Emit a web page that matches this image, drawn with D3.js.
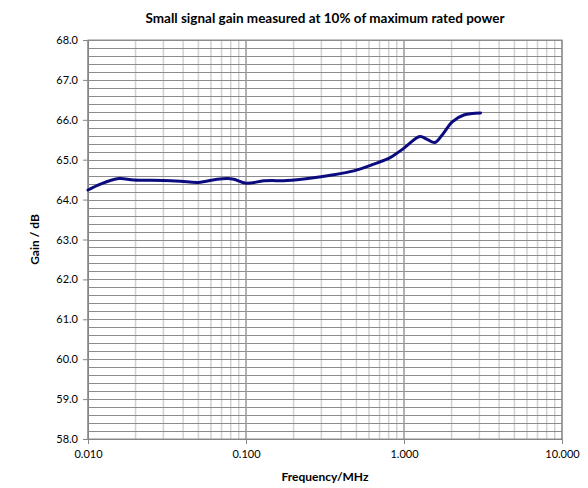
<!DOCTYPE html>
<html>
<head>
<meta charset="UTF-8">
<script src="https://cdn.jsdelivr.net/npm/d3@7/dist/d3.min.js"></script>
<style>
body{
    margin:0;
    background-color:#fff;
    font-family: "Lato", "Open Sans", sans-serif;
}
.axis path, .axis line{
    stroke:#868686;
}
.axis text{
    font-family: "Lato", "Open Sans", sans-serif;
    font-size:11px;
    fill:#000;
}
</style>
</head>
<body>
<script>

// frequency (MHz) and gain (dB)
var freq = [0.010, 0.012, 0.0157, 0.0195, 0.030, 0.0385, 0.050, 0.0657, 0.076, 0.0837, 0.100, 0.130, 0.182, 0.268, 0.343, 0.481, 0.644, 0.822, 1.00, 1.26, 1.40, 1.567, 1.745, 2.02, 2.39, 3.05];
var gain = [64.24, 64.39, 64.53, 64.49, 64.48, 64.46, 64.43, 64.51, 64.53, 64.51, 64.41, 64.47, 64.48, 64.55, 64.61, 64.72, 64.89, 65.06, 65.29, 65.58, 65.51, 65.43, 65.62, 65.95, 66.12, 66.17];

var xTicks = [0.01, 0.1, 1, 10];
var yTicks = [58, 59, 60, 61, 62, 63, 64, 65, 66, 67, 68];

var data = freq.map(function(f, i){ return {f: f, g: gain[i]}; });

var width = 588, height = 488;
var margin = {top: 40, right: 26, bottom: 49, left: 88};
var w = width - margin.left - margin.right,
    h = height - margin.top - margin.bottom;

var x = d3.scaleLog().domain([0.01, 10]).range([0, w]);
var y = d3.scaleLinear().domain([58, 68]).range([h, 0]);

var svg = d3.select("body").append("svg")
    .attr("width", width)
    .attr("height", height);

var g = svg.append("g")
    .attr("transform", "translate(" + margin.left + "," + margin.top + ")");

// minor vertical grid (2..9 in each decade)
var minorX = [];
[0.01, 0.1, 1].forEach(function(d){
    for (var k = 2; k <= 9; k++) minorX.push(d * k);
});
g.selectAll(".vminor")
    .data(minorX)
    .enter().append("line")
    .attr("x1", function(d){ return x(d); })
    .attr("x2", function(d){ return x(d); })
    .attr("y1", 0).attr("y2", h)
    .attr("stroke", "#d0d0d0")
    .attr("stroke-width", 1.5);

// horizontal grid every 0.2 dB
var hLines = d3.range(58, 68.001, 0.2);
g.selectAll(".hgrid")
    .data(hLines)
    .enter().append("line")
    .attr("x1", 0).attr("x2", w)
    .attr("y1", function(d){ return Math.round(y(d)) + 0.5; })
    .attr("y2", function(d){ return Math.round(y(d)) + 0.5; })
    .attr("stroke", "#8c8c8c")
    .attr("stroke-width", 1);

// decade lines
g.selectAll(".vmajor")
    .data(xTicks)
    .enter().append("line")
    .attr("x1", function(d){ return x(d); })
    .attr("x2", function(d){ return x(d); })
    .attr("y1", 0).attr("y2", h)
    .attr("stroke", "#9a9a9a")
    .attr("stroke-width", 1.5);

g.append("rect")
    .attr("width", w).attr("height", h)
    .attr("fill", "none")
    .attr("stroke", "#8c8c8c");

var gX = g.append("g")
    .attr("class", "axis")
    .attr("transform", "translate(0," + h + ")")
    .call(d3.axisBottom(x).tickValues(xTicks).tickFormat(d3.format(".3f")).tickSize(5).tickPadding(6));

var gY = g.append("g")
    .attr("class", "axis")
    .call(d3.axisLeft(y).tickValues(yTicks).tickFormat(d3.format(".1f")).tickSize(5).tickPadding(5));

var line = d3.line()
    .x(function(d){ return x(d.f); })
    .y(function(d){ return y(d.g); })
    .curve(d3.curveCatmullRom.alpha(0.5));

g.append("path")
    .datum(data)
    .attr("fill", "none")
    .attr("stroke", "#0b0b80")
    .attr("stroke-width", 3)
    .attr("stroke-linejoin", "round")
    .attr("stroke-linecap", "round")
    .attr("d", line);

svg.append("text")
    .attr("x", 325)
    .attr("y", 23)
    .attr("text-anchor", "middle")
    .attr("font-size", 13.5)
    .attr("font-weight", "bold")
    .text("Small signal gain measured at 10% of maximum rated power");

svg.append("text")
    .attr("x", 325)
    .attr("y", 481)
    .attr("text-anchor", "middle")
    .attr("font-size", 12)
    .attr("font-weight", "bold")
    .text("Frequency/MHz");

svg.append("text")
    .attr("transform", "translate(39," + (margin.top + h / 2) + ") rotate(-90)")
    .attr("text-anchor", "middle")
    .attr("font-size", 12)
    .attr("font-weight", "bold")
    .text("Gain / dB");

</script>
</body>
</html>
